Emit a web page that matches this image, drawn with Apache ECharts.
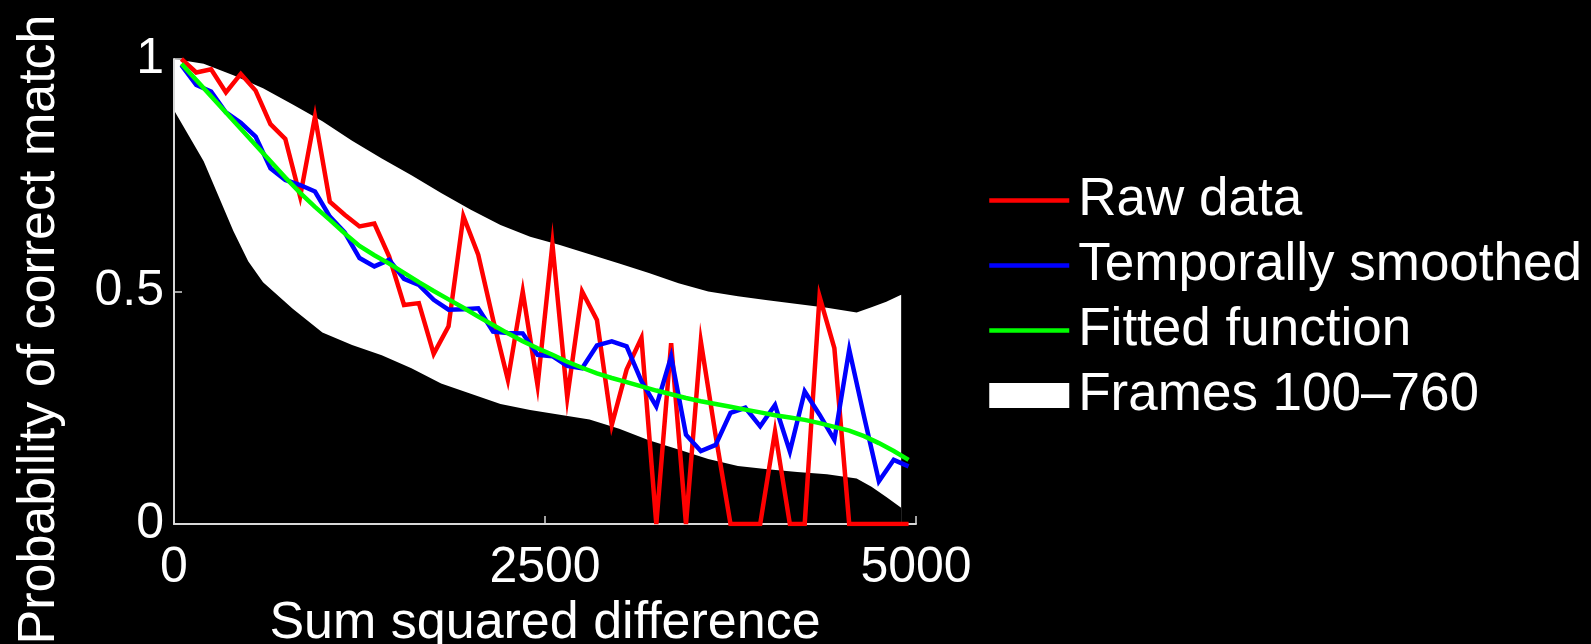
<!DOCTYPE html>
<html>
<head>
<meta charset="utf-8">
<script src="https://cdn.jsdelivr.net/npm/echarts@6/dist/echarts.min.js"></script>
<style>
  html, body { margin: 0; padding: 0; background: #000; }
  #chart { width: 1591px; height: 644px; }
</style>
</head>
<body>
<div id="chart"></div>
<script>
// bin centres of the sum squared difference
const binX = [50, 150, 250, 350, 450, 550, 650, 750, 850, 950,
  1050, 1150, 1250, 1350, 1450, 1550, 1650, 1750, 1850, 1950,
  2050, 2150, 2250, 2350, 2450, 2550, 2650, 2750, 2850, 2950,
  3050, 3150, 3250, 3350, 3450, 3550, 3650, 3750, 3850, 3950,
  4050, 4150, 4250, 4350, 4450, 4550, 4650, 4750, 4850, 4950];

const rawData = [1.0, 0.971, 0.978, 0.928, 0.968, 0.932, 0.860, 0.828, 0.704, 0.876,
  0.693, 0.665, 0.640, 0.646, 0.575, 0.471, 0.475, 0.366, 0.425, 0.662,
  0.579, 0.440, 0.310, 0.500, 0.298, 0.602, 0.272, 0.500, 0.439, 0.213,
  0.332, 0.400, 0, 0.389, 0, 0.393, 0.190, 0, 0, 0,
  0.199, 0, 0, 0.489, 0.378, 0, 0, 0, 0, 0];

const smoothed = [0.987, 0.944, 0.930, 0.885, 0.863, 0.833, 0.765, 0.740, 0.729, 0.715,
  0.661, 0.627, 0.572, 0.554, 0.568, 0.527, 0.514, 0.482, 0.461, 0.462,
  0.464, 0.414, 0.411, 0.410, 0.364, 0.361, 0.340, 0.335, 0.384, 0.393,
  0.382, 0.307, 0.253, 0.360, 0.192, 0.157, 0.170, 0.239, 0.250, 0.210,
  0.256, 0.156, 0.285, 0.235, 0.181, 0.375, 0.231, 0.092, 0.138, 0.124];

const fitted = [0.990, 0.955, 0.920, 0.885, 0.850, 0.815, 0.780, 0.745, 0.712, 0.682,
  0.654, 0.625, 0.598, 0.578, 0.560, 0.540, 0.520, 0.501, 0.483, 0.465,
  0.446, 0.428, 0.410, 0.393, 0.378, 0.364, 0.349, 0.336, 0.324, 0.314,
  0.305, 0.296, 0.287, 0.279, 0.271, 0.264, 0.258, 0.252, 0.246, 0.240,
  0.234, 0.229, 0.224, 0.217, 0.209, 0.201, 0.189, 0.174, 0.157, 0.138];

// envelope over frames 100-760
const bandX = [0, 200, 400, 500, 600, 800, 1000, 1200, 1400, 1600, 1800,
  2000, 2200, 2400, 2600, 2800, 3000, 3200, 3400, 3600, 3800,
  4000, 4200, 4400, 4600, 4700, 4800, 4900];
const bandUpper = [1.0, 0.990, 0.965, 0.951, 0.937, 0.902, 0.866, 0.824, 0.786, 0.750, 0.712,
  0.676, 0.643, 0.618, 0.600, 0.580, 0.560, 0.540, 0.518, 0.500, 0.490,
  0.481, 0.473, 0.465, 0.455, 0.466, 0.478, 0.493];
const bandLower = [0.890, 0.780, 0.630, 0.565, 0.520, 0.463, 0.412, 0.385, 0.363, 0.335, 0.302,
  0.280, 0.258, 0.245, 0.235, 0.225, 0.205, 0.180, 0.160, 0.140, 0.125,
  0.118, 0.112, 0.107, 0.098, 0.080, 0.058, 0.035];

const xTicks = ['0', '2500', '5000'];
const yTicks = ['0', '0.5', '1'];

const FONT = "'Liberation Sans', Arial, Helvetica, sans-serif";

const pairs = (xs, ys) => xs.map((x, i) => [x, ys[i]]);

const chart = echarts.init(document.getElementById('chart'));

const lineSeries = (name, data, color) => ({
  name,
  type: 'line',
  data: pairs(binX, data),
  symbol: 'none',
  lineStyle: { color, width: 4.5, join: 'miter' },
  itemStyle: { color },
  z: 3,
});

// the band: white area down to the axis, then the lower edge masked in black
const bandSeries = (name, data, color) => ({
  name,
  type: 'line',
  data: pairs(bandX, data),
  symbol: 'none',
  lineStyle: { width: 0, opacity: 0 },
  itemStyle: { color },
  areaStyle: { color, opacity: 1, origin: 'start' },
  silent: true,
  z: 1,
});

chart.setOption({
  backgroundColor: '#000',
  animation: false,
  grid: { left: 174, top: 59, width: 742, height: 465, outerBoundsMode: 'none' },
  legend: {
    orient: 'vertical',
    left: 982,
    top: 169,
    itemWidth: 80,
    itemHeight: 25,
    itemGap: 12,
    lineStyle: { width: 4.5 },
    textStyle: { color: '#fff', fontSize: 53, fontFamily: FONT, padding: [0, 0, 0, 4] },
    data: [
      { name: 'Raw data', itemStyle: { opacity: 0 } },
      { name: 'Temporally smoothed', itemStyle: { opacity: 0 } },
      { name: 'Fitted function', itemStyle: { opacity: 0 } },
      { name: 'Frames 100–760', icon: 'rect' },
    ],
  },
  xAxis: {
    type: 'value',
    min: 0,
    max: 5000,
    interval: 2500,
    z: 2,
    name: 'Sum squared difference',
    nameLocation: 'middle',
    nameGap: 58,
    nameTextStyle: { color: '#fff', fontSize: 52, fontFamily: FONT },
    axisLine: { onZero: false, lineStyle: { color: '#d8d8d8', width: 2 } },
    axisTick: { inside: true, length: 8, lineStyle: { color: '#d8d8d8', width: 1.5 } },
    axisLabel: {
      color: '#fff', fontSize: 50, fontFamily: FONT, margin: 19,
      formatter: (v) => xTicks[Math.round(v / 2500)],
    },
    splitLine: { show: false },
  },
  yAxis: {
    type: 'value',
    min: 0,
    max: 1,
    interval: 0.5,
    z: 2,
    name: 'Probability of correct match',
    nameLocation: 'middle',
    nameGap: 108,
    nameTextStyle: { color: '#fff', fontSize: 52, fontFamily: FONT, padding: [0, 76, 0, 0] },
    axisLine: { show: true, onZero: false, lineStyle: { color: '#d8d8d8', width: 2 } },
    axisTick: { show: true, inside: true, length: 8, lineStyle: { color: '#d8d8d8', width: 1.5 } },
    axisLabel: {
      color: '#fff', fontSize: 50, fontFamily: FONT, margin: 10,
      formatter: (v) => yTicks[Math.round(v / 0.5)],
    },
    splitLine: { show: false },
  },
  series: [
    bandSeries('Frames 100–760', bandUpper, '#ffffff'),
    bandSeries('band lower edge', bandLower, '#000000'),
    lineSeries('Raw data', rawData, '#ff0000'),
    lineSeries('Temporally smoothed', smoothed, '#0000ff'),
    lineSeries('Fitted function', fitted, '#00ff00'),
  ],
});
</script>
</body>
</html>
